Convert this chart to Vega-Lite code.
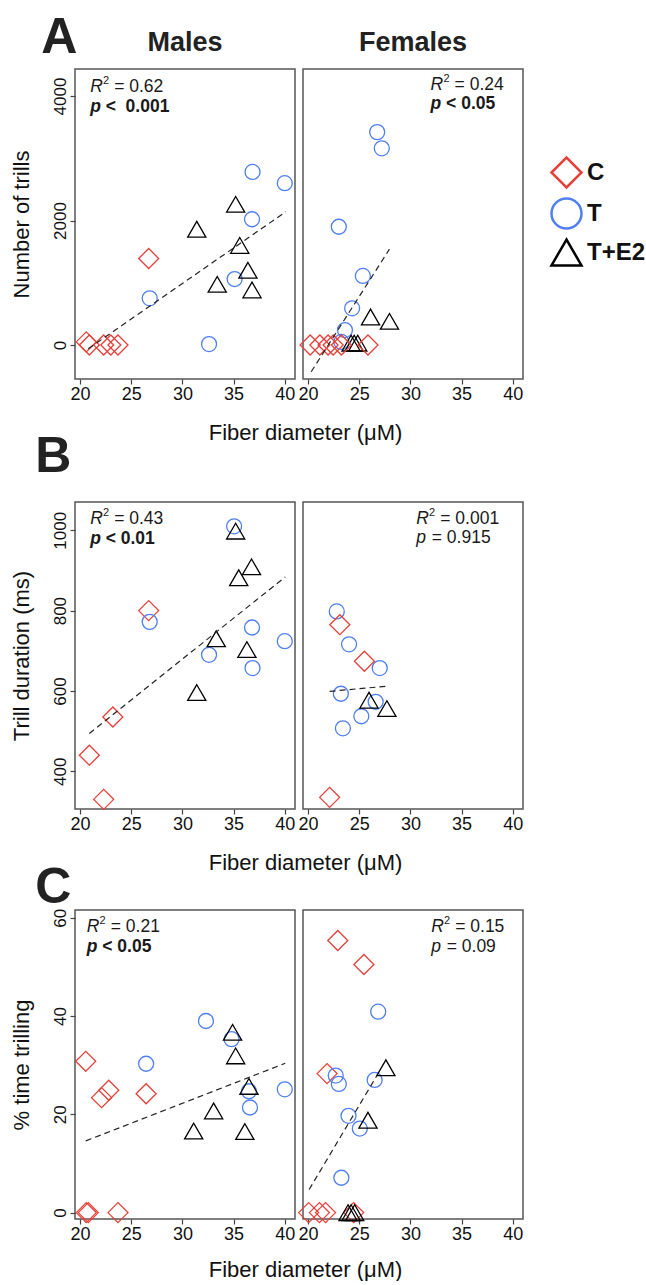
{
"$schema": "https://vega.github.io/schema/vega-lite/v6.json",
"padding": {"left": 9, "top": 12, "right": 0, "bottom": 0},
"background": "white",
"config": {
 "font": "Liberation Sans",
 "view": {"stroke": "#555", "strokeWidth": 1.5},
 "axis": {"grid": false, "domain": false, "tickColor": "#444", "tickSize": 5, "tickWidth": 1.2, "labelFontSize": 18, "labelColor": "#111", "labelPadding": 1, "titleFontSize": 22, "titleFontWeight": "normal", "titleColor": "#111"},
 "axisY": {"labelAngle": -90, "labelAlign": "center", "labelBaseline": "bottom", "labelFontSize": 17, "titlePadding": 18, "format": "d"},
 "title": {"color": "#222"},
 "legend": {"symbolSize": 900, "symbolStrokeWidth": 2.5, "labelFontSize": 24, "labelFontWeight": "bold", "labelColor": "#111", "rowPadding": 0, "labelOffset": 4}
},
"datasets": {
 "pts": [
  {"P":"AM","g":"C","x":20.6,"y":50},{"P":"AM","g":"C","x":20.9,"y":0},{"P":"AM","g":"C","x":22.3,"y":0},{"P":"AM","g":"C","x":23.0,"y":0},{"P":"AM","g":"C","x":23.7,"y":0},{"P":"AM","g":"C","x":26.7,"y":1390},
  {"P":"AM","g":"T","x":26.8,"y":750},{"P":"AM","g":"T","x":32.6,"y":15},{"P":"AM","g":"T","x":35.1,"y":1060},{"P":"AM","g":"T","x":36.85,"y":2780},{"P":"AM","g":"T","x":36.8,"y":2020},{"P":"AM","g":"T","x":40.0,"y":2600},
  {"P":"AM","g":"T+E2","x":35.2,"y":2260},{"P":"AM","g":"T+E2","x":31.4,"y":1860},{"P":"AM","g":"T+E2","x":35.6,"y":1600},{"P":"AM","g":"T+E2","x":36.4,"y":1200},{"P":"AM","g":"T+E2","x":33.4,"y":975},{"P":"AM","g":"T+E2","x":36.8,"y":885},
  {"P":"AF","g":"T","x":26.75,"y":3420},{"P":"AF","g":"T","x":27.2,"y":3160},{"P":"AF","g":"T","x":23.0,"y":1900},{"P":"AF","g":"T","x":25.35,"y":1110},{"P":"AF","g":"T","x":24.3,"y":590},{"P":"AF","g":"T","x":23.6,"y":240},{"P":"AF","g":"T","x":23.25,"y":50},
  {"P":"AF","g":"T+E2","x":26.1,"y":450},{"P":"AF","g":"T+E2","x":27.95,"y":380},{"P":"AF","g":"T+E2","x":24.2,"y":30},{"P":"AF","g":"T+E2","x":24.5,"y":30},{"P":"AF","g":"T+E2","x":24.85,"y":30},
  {"P":"AF","g":"C","x":20.2,"y":0},{"P":"AF","g":"C","x":21.15,"y":0},{"P":"AF","g":"C","x":21.95,"y":0},{"P":"AF","g":"C","x":22.45,"y":0},{"P":"AF","g":"C","x":23.25,"y":0},{"P":"AF","g":"C","x":25.85,"y":0},
  {"P":"BM","g":"C","x":26.7,"y":800},{"P":"BM","g":"C","x":23.2,"y":535},{"P":"BM","g":"C","x":20.9,"y":440},{"P":"BM","g":"C","x":22.3,"y":330},
  {"P":"BM","g":"T","x":35.05,"y":1010},{"P":"BM","g":"T","x":26.8,"y":772},{"P":"BM","g":"T","x":36.8,"y":758},{"P":"BM","g":"T","x":32.6,"y":690},{"P":"BM","g":"T","x":36.85,"y":657},{"P":"BM","g":"T","x":40.0,"y":724},
  {"P":"BM","g":"T+E2","x":35.2,"y":998},{"P":"BM","g":"T+E2","x":36.75,"y":909},{"P":"BM","g":"T+E2","x":35.5,"y":882},{"P":"BM","g":"T+E2","x":33.3,"y":730},{"P":"BM","g":"T+E2","x":36.3,"y":703},{"P":"BM","g":"T+E2","x":31.4,"y":596},
  {"P":"BF","g":"T","x":22.8,"y":798},{"P":"BF","g":"T","x":24.0,"y":716},{"P":"BF","g":"T","x":27.0,"y":657},{"P":"BF","g":"T","x":23.2,"y":593},{"P":"BF","g":"T","x":26.6,"y":573},{"P":"BF","g":"T","x":25.2,"y":537},{"P":"BF","g":"T","x":23.4,"y":507},
  {"P":"BF","g":"C","x":23.1,"y":765},{"P":"BF","g":"C","x":25.5,"y":674},{"P":"BF","g":"C","x":22.1,"y":335},
  {"P":"BF","g":"T+E2","x":25.95,"y":577},{"P":"BF","g":"T+E2","x":27.7,"y":556},
  {"P":"CM","g":"C","x":20.55,"y":30.8},{"P":"CM","g":"C","x":22.1,"y":23.4},{"P":"CM","g":"C","x":22.8,"y":24.9},{"P":"CM","g":"C","x":26.45,"y":24.2},{"P":"CM","g":"C","x":20.6,"y":0},{"P":"CM","g":"C","x":20.8,"y":0},{"P":"CM","g":"C","x":23.7,"y":0},
  {"P":"CM","g":"T","x":32.3,"y":39.0},{"P":"CM","g":"T","x":34.8,"y":35.3},{"P":"CM","g":"T","x":26.45,"y":30.3},{"P":"CM","g":"T","x":40.0,"y":25.1},{"P":"CM","g":"T","x":36.5,"y":24.7},{"P":"CM","g":"T","x":36.6,"y":21.4},
  {"P":"CM","g":"T+E2","x":34.9,"y":36.7},{"P":"CM","g":"T+E2","x":35.2,"y":31.9},{"P":"CM","g":"T+E2","x":36.5,"y":25.7},{"P":"CM","g":"T+E2","x":33.05,"y":20.7},{"P":"CM","g":"T+E2","x":31.1,"y":16.6},{"P":"CM","g":"T+E2","x":36.1,"y":16.5},
  {"P":"CF","g":"C","x":22.9,"y":55.4},{"P":"CF","g":"C","x":25.45,"y":50.5},{"P":"CF","g":"C","x":21.85,"y":28.3},{"P":"CF","g":"C","x":20.05,"y":0},{"P":"CF","g":"C","x":21.1,"y":0},{"P":"CF","g":"C","x":21.7,"y":0},{"P":"CF","g":"C","x":24.45,"y":0},
  {"P":"CF","g":"T","x":26.85,"y":40.9},{"P":"CF","g":"T","x":22.7,"y":27.9},{"P":"CF","g":"T","x":23.0,"y":26.2},{"P":"CF","g":"T","x":26.5,"y":27.0},{"P":"CF","g":"T","x":23.95,"y":19.7},{"P":"CF","g":"T","x":25.05,"y":17.1},{"P":"CF","g":"T","x":23.25,"y":7.1},
  {"P":"CF","g":"T+E2","x":27.6,"y":29.5},{"P":"CF","g":"T+E2","x":25.85,"y":18.8},{"P":"CF","g":"T+E2","x":23.9,"y":0},{"P":"CF","g":"T+E2","x":24.2,"y":0},{"P":"CF","g":"T+E2","x":24.55,"y":0}
 ],
 "lines": [
  {"P":"AM","x":20.8,"y":-60},{"P":"AM","x":40.1,"y":2140},
  {"P":"AF","x":20.3,"y":-430},{"P":"AF","x":27.95,"y":1540},
  {"P":"BM","x":20.9,"y":494},{"P":"BM","x":40.05,"y":884},
  {"P":"BF","x":22.1,"y":599},{"P":"BF","x":27.8,"y":612},
  {"P":"CM","x":20.55,"y":14.6},{"P":"CM","x":40.05,"y":30.4},
  {"P":"CF","x":20.1,"y":4.7},{"P":"CF","x":26.7,"y":27.8}
 ],
 "ann": [
  {"P":"AM","x":20.98,"yr":4150,"yp":3830,"r":"= 0.62","pr":"<\u00a0\u00a00.001"},
  {"P":"AF","x":31.97,"yr":4177,"yp":3866,"r":"= 0.24","pr":"< 0.05"},
  {"P":"BM","x":20.98,"yr":1029,"yp":979,"r":"= 0.43","pr":"< 0.01"},
  {"P":"BF","x":30.57,"yr":1029,"yp":981,"r":"= 0.001","pr":"= 0.915"},
  {"P":"CM","x":20.65,"yr":58.1,"yp":54.0,"r":"= 0.21","pr":"< 0.05"},
  {"P":"CF","x":32.03,"yr":58.1,"yp":54.0,"r":"= 0.15","pr":"= 0.09"}
 ]
},
"spacing": -12,
"vconcat": [
 {"hconcat": [
  {"width": 220, "height": 310,
   "title": {"text": "Males", "fontSize": 27, "fontWeight": "bold", "offset": 12},
   "layer": [
    {"data": {"name": "pts"}, "transform": [{"filter": "datum.P==='AM'"}],
     "mark": {"type": "point", "filled": false, "strokeWidth": 1.3, "opacity": 1},
     "encoding": {
      "x": {"field": "x", "type": "quantitative", "scale": {"domain": [19.5, 41], "nice": false, "zero": false}, "axis": {"values": [20,25,30,35,40], "title": "Fiber diameter (μM)", "titleX": 230, "titleY": 43}},
      "y": {"field": "y", "type": "quantitative", "scale": {"domain": [-546, 4434], "nice": false, "zero": false}, "axis": {"values": [0,2000,4000], "title": "Number of trills"}},
      "shape": {"field": "g", "type": "nominal", "scale": {"domain": ["C","T","T+E2"], "range": ["diamond","circle","triangle-up"]}, "legend": {"title": null, "orient": "none", "legendX": 475, "legendY": 87, "symbolSize": 900, "symbolStrokeWidth": 2.5, "rowPadding": 0}},
      "color": {"field": "g", "type": "nominal", "scale": {"domain": ["C","T","T+E2"], "range": ["#e5413a","#4f7ff0","#000000"]}, "legend": {"title": null, "orient": "none", "legendX": 475, "legendY": 87, "symbolSize": 900, "symbolStrokeWidth": 2.5, "rowPadding": 0}},
      "size": {"condition": [{"test": "datum.g==='C'", "value": 400}, {"test": "datum.g==='T'", "value": 225}], "value": 330}
     }},
    {"data": {"name": "lines"}, "transform": [{"filter": "datum.P==='AM'"}], "mark": {"type": "line", "strokeDash": [6,4], "color": "#222", "strokeWidth": 1.2}, "encoding": {"x": {"field": "x", "type": "quantitative"}, "y": {"field": "y", "type": "quantitative"}}},
    {"data": {"name": "ann"}, "transform": [{"filter": "datum.P==='AM'"}], "mark": {"type": "text", "text": "R", "fontStyle": "italic", "fontSize": 17.5, "align": "left", "baseline": "middle", "color": "#1a1a1a"}, "encoding": {"x": {"field": "x", "type": "quantitative"}, "y": {"field": "yr", "type": "quantitative"}}},
    {"data": {"name": "ann"}, "transform": [{"filter": "datum.P==='AM'"}], "mark": {"type": "text", "text": "2", "fontSize": 11, "align": "left", "baseline": "middle", "dx": 12.8, "dy": -6, "color": "#1a1a1a"}, "encoding": {"x": {"field": "x", "type": "quantitative"}, "y": {"field": "yr", "type": "quantitative"}}},
    {"data": {"name": "ann"}, "transform": [{"filter": "datum.P==='AM'"}], "mark": {"type": "text", "fontSize": 17.5, "align": "left", "baseline": "middle", "dx": 24, "color": "#1a1a1a"}, "encoding": {"x": {"field": "x", "type": "quantitative"}, "y": {"field": "yr", "type": "quantitative"}, "text": {"field": "r"}}},
    {"data": {"name": "ann"}, "transform": [{"filter": "datum.P==='AM'"}], "mark": {"type": "text", "text": "p", "fontStyle": "italic", "fontWeight": "bold", "fontSize": 17.5, "align": "left", "baseline": "middle", "color": "#1a1a1a"}, "encoding": {"x": {"field": "x", "type": "quantitative"}, "y": {"field": "yp", "type": "quantitative"}}},
    {"data": {"name": "ann"}, "transform": [{"filter": "datum.P==='AM'"}], "mark": {"type": "text", "fontWeight": "bold", "fontSize": 17.5, "align": "left", "baseline": "middle", "dx": 15.5, "color": "#1a1a1a"}, "encoding": {"x": {"field": "x", "type": "quantitative"}, "y": {"field": "yp", "type": "quantitative"}, "text": {"field": "pr"}}}
   ]},
  {"width": 220, "height": 310,
   "title": {"text": "Females", "fontSize": 27, "fontWeight": "bold", "offset": 12},
   "layer": [
    {"data": {"name": "pts"}, "transform": [{"filter": "datum.P==='AF'"}],
     "mark": {"type": "point", "filled": false, "strokeWidth": 1.3, "opacity": 1},
     "encoding": {
      "x": {"field": "x", "type": "quantitative", "scale": {"domain": [19.5, 41], "nice": false, "zero": false}, "axis": {"values": [20,25,30,35,40], "title": null}},
      "y": {"field": "y", "type": "quantitative", "scale": {"domain": [-546, 4434], "nice": false, "zero": false}, "axis": null},
      "shape": {"field": "g", "type": "nominal", "scale": {"domain": ["C","T","T+E2"], "range": ["diamond","circle","triangle-up"]}},
      "color": {"field": "g", "type": "nominal", "scale": {"domain": ["C","T","T+E2"], "range": ["#e5413a","#4f7ff0","#000000"]}},
      "size": {"condition": [{"test": "datum.g==='C'", "value": 400}, {"test": "datum.g==='T'", "value": 225}], "value": 330}
     }},
    {"data": {"name": "lines"}, "transform": [{"filter": "datum.P==='AF'"}], "mark": {"type": "line", "strokeDash": [6,4], "color": "#222", "strokeWidth": 1.2}, "encoding": {"x": {"field": "x", "type": "quantitative"}, "y": {"field": "y", "type": "quantitative"}}},
    {"data": {"name": "ann"}, "transform": [{"filter": "datum.P==='AF'"}], "mark": {"type": "text", "text": "R", "fontStyle": "italic", "fontSize": 17.5, "align": "left", "baseline": "middle", "color": "#1a1a1a"}, "encoding": {"x": {"field": "x", "type": "quantitative"}, "y": {"field": "yr", "type": "quantitative"}}},
    {"data": {"name": "ann"}, "transform": [{"filter": "datum.P==='AF'"}], "mark": {"type": "text", "text": "2", "fontSize": 11, "align": "left", "baseline": "middle", "dx": 12.8, "dy": -6, "color": "#1a1a1a"}, "encoding": {"x": {"field": "x", "type": "quantitative"}, "y": {"field": "yr", "type": "quantitative"}}},
    {"data": {"name": "ann"}, "transform": [{"filter": "datum.P==='AF'"}], "mark": {"type": "text", "fontSize": 17.5, "align": "left", "baseline": "middle", "dx": 24, "color": "#1a1a1a"}, "encoding": {"x": {"field": "x", "type": "quantitative"}, "y": {"field": "yr", "type": "quantitative"}, "text": {"field": "r"}}},
    {"data": {"name": "ann"}, "transform": [{"filter": "datum.P==='AF'"}], "mark": {"type": "text", "text": "p", "fontStyle": "italic", "fontWeight": "bold", "fontSize": 17.5, "align": "left", "baseline": "middle", "color": "#1a1a1a"}, "encoding": {"x": {"field": "x", "type": "quantitative"}, "y": {"field": "yp", "type": "quantitative"}}},
    {"data": {"name": "ann"}, "transform": [{"filter": "datum.P==='AF'"}], "mark": {"type": "text", "fontWeight": "bold", "fontSize": 17.5, "align": "left", "baseline": "middle", "dx": 15.5, "color": "#1a1a1a"}, "encoding": {"x": {"field": "x", "type": "quantitative"}, "y": {"field": "yp", "type": "quantitative"}, "text": {"field": "pr"}}}
   ]}
 ], "spacing": 8, "bounds": "flush",
 "title": {"text": "A", "anchor": "start", "fontSize": 50, "fontWeight": "bold", "offset": -34.5, "dx": 32}},
 {"hconcat": [
  {"width": 220, "height": 307,
   "layer": [
    {"data": {"name": "pts"}, "transform": [{"filter": "datum.P==='BM'"}],
     "mark": {"type": "point", "filled": false, "strokeWidth": 1.3, "opacity": 1},
     "encoding": {
      "x": {"field": "x", "type": "quantitative", "scale": {"domain": [19.5, 41], "nice": false, "zero": false}, "axis": {"values": [20,25,30,35,40], "title": "Fiber diameter (μM)", "titleX": 230, "titleY": 43}},
      "y": {"field": "y", "type": "quantitative", "scale": {"domain": [306, 1070.5], "nice": false, "zero": false}, "axis": {"values": [400,600,800,1000], "title": "Trill duration (ms)"}},
      "shape": {"field": "g", "type": "nominal", "scale": {"domain": ["C","T","T+E2"], "range": ["diamond","circle","triangle-up"]}},
      "color": {"field": "g", "type": "nominal", "scale": {"domain": ["C","T","T+E2"], "range": ["#e5413a","#4f7ff0","#000000"]}},
      "size": {"condition": [{"test": "datum.g==='C'", "value": 400}, {"test": "datum.g==='T'", "value": 225}], "value": 330}
     }},
    {"data": {"name": "lines"}, "transform": [{"filter": "datum.P==='BM'"}], "mark": {"type": "line", "strokeDash": [6,4], "color": "#222", "strokeWidth": 1.2}, "encoding": {"x": {"field": "x", "type": "quantitative"}, "y": {"field": "y", "type": "quantitative"}}},
    {"data": {"name": "ann"}, "transform": [{"filter": "datum.P==='BM'"}], "mark": {"type": "text", "text": "R", "fontStyle": "italic", "fontSize": 17.5, "align": "left", "baseline": "middle", "color": "#1a1a1a"}, "encoding": {"x": {"field": "x", "type": "quantitative"}, "y": {"field": "yr", "type": "quantitative"}}},
    {"data": {"name": "ann"}, "transform": [{"filter": "datum.P==='BM'"}], "mark": {"type": "text", "text": "2", "fontSize": 11, "align": "left", "baseline": "middle", "dx": 12.8, "dy": -6, "color": "#1a1a1a"}, "encoding": {"x": {"field": "x", "type": "quantitative"}, "y": {"field": "yr", "type": "quantitative"}}},
    {"data": {"name": "ann"}, "transform": [{"filter": "datum.P==='BM'"}], "mark": {"type": "text", "fontSize": 17.5, "align": "left", "baseline": "middle", "dx": 24, "color": "#1a1a1a"}, "encoding": {"x": {"field": "x", "type": "quantitative"}, "y": {"field": "yr", "type": "quantitative"}, "text": {"field": "r"}}},
    {"data": {"name": "ann"}, "transform": [{"filter": "datum.P==='BM'"}], "mark": {"type": "text", "text": "p", "fontStyle": "italic", "fontWeight": "bold", "fontSize": 17.5, "align": "left", "baseline": "middle", "color": "#1a1a1a"}, "encoding": {"x": {"field": "x", "type": "quantitative"}, "y": {"field": "yp", "type": "quantitative"}}},
    {"data": {"name": "ann"}, "transform": [{"filter": "datum.P==='BM'"}], "mark": {"type": "text", "fontWeight": "bold", "fontSize": 17.5, "align": "left", "baseline": "middle", "dx": 15.5, "color": "#1a1a1a"}, "encoding": {"x": {"field": "x", "type": "quantitative"}, "y": {"field": "yp", "type": "quantitative"}, "text": {"field": "pr"}}}
   ]},
  {"width": 220, "height": 307,
   "layer": [
    {"data": {"name": "pts"}, "transform": [{"filter": "datum.P==='BF'"}],
     "mark": {"type": "point", "filled": false, "strokeWidth": 1.3, "opacity": 1},
     "encoding": {
      "x": {"field": "x", "type": "quantitative", "scale": {"domain": [19.5, 41], "nice": false, "zero": false}, "axis": {"values": [20,25,30,35,40], "title": null}},
      "y": {"field": "y", "type": "quantitative", "scale": {"domain": [306, 1070.5], "nice": false, "zero": false}, "axis": null},
      "shape": {"field": "g", "type": "nominal", "scale": {"domain": ["C","T","T+E2"], "range": ["diamond","circle","triangle-up"]}},
      "color": {"field": "g", "type": "nominal", "scale": {"domain": ["C","T","T+E2"], "range": ["#e5413a","#4f7ff0","#000000"]}},
      "size": {"condition": [{"test": "datum.g==='C'", "value": 400}, {"test": "datum.g==='T'", "value": 225}], "value": 330}
     }},
    {"data": {"name": "lines"}, "transform": [{"filter": "datum.P==='BF'"}], "mark": {"type": "line", "strokeDash": [6,4], "color": "#222", "strokeWidth": 1.2}, "encoding": {"x": {"field": "x", "type": "quantitative"}, "y": {"field": "y", "type": "quantitative"}}},
    {"data": {"name": "ann"}, "transform": [{"filter": "datum.P==='BF'"}], "mark": {"type": "text", "text": "R", "fontStyle": "italic", "fontSize": 17.5, "align": "left", "baseline": "middle", "color": "#1a1a1a"}, "encoding": {"x": {"field": "x", "type": "quantitative"}, "y": {"field": "yr", "type": "quantitative"}}},
    {"data": {"name": "ann"}, "transform": [{"filter": "datum.P==='BF'"}], "mark": {"type": "text", "text": "2", "fontSize": 11, "align": "left", "baseline": "middle", "dx": 12.8, "dy": -6, "color": "#1a1a1a"}, "encoding": {"x": {"field": "x", "type": "quantitative"}, "y": {"field": "yr", "type": "quantitative"}}},
    {"data": {"name": "ann"}, "transform": [{"filter": "datum.P==='BF'"}], "mark": {"type": "text", "fontSize": 17.5, "align": "left", "baseline": "middle", "dx": 24, "color": "#1a1a1a"}, "encoding": {"x": {"field": "x", "type": "quantitative"}, "y": {"field": "yr", "type": "quantitative"}, "text": {"field": "r"}}},
    {"data": {"name": "ann"}, "transform": [{"filter": "datum.P==='BF'"}], "mark": {"type": "text", "text": "p", "fontStyle": "italic", "fontSize": 17.5, "align": "left", "baseline": "middle", "color": "#1a1a1a"}, "encoding": {"x": {"field": "x", "type": "quantitative"}, "y": {"field": "yp", "type": "quantitative"}}},
    {"data": {"name": "ann"}, "transform": [{"filter": "datum.P==='BF'"}], "mark": {"type": "text", "fontSize": 17.5, "align": "left", "baseline": "middle", "dx": 15.5, "color": "#1a1a1a"}, "encoding": {"x": {"field": "x", "type": "quantitative"}, "y": {"field": "yp", "type": "quantitative"}, "text": {"field": "pr"}}}
   ]}
 ], "spacing": 8, "bounds": "flush",
 "title": {"text": "B", "anchor": "start", "fontSize": 50, "fontWeight": "bold", "offset": 19, "dx": 26}},
 {"hconcat": [
  {"width": 220, "height": 309,
   "layer": [
    {"data": {"name": "pts"}, "transform": [{"filter": "datum.P==='CM'"}],
     "mark": {"type": "point", "filled": false, "strokeWidth": 1.3, "opacity": 1},
     "encoding": {
      "x": {"field": "x", "type": "quantitative", "scale": {"domain": [19.5, 41], "nice": false, "zero": false}, "axis": {"values": [20,25,30,35,40], "title": "Fiber diameter (μM)", "titleX": 230, "titleY": 40}},
      "y": {"field": "y", "type": "quantitative", "scale": {"domain": [-1.3, 61.6], "nice": false, "zero": false}, "axis": {"values": [0,20,40,60], "title": "% time trilling"}},
      "shape": {"field": "g", "type": "nominal", "scale": {"domain": ["C","T","T+E2"], "range": ["diamond","circle","triangle-up"]}},
      "color": {"field": "g", "type": "nominal", "scale": {"domain": ["C","T","T+E2"], "range": ["#e5413a","#4f7ff0","#000000"]}},
      "size": {"condition": [{"test": "datum.g==='C'", "value": 400}, {"test": "datum.g==='T'", "value": 225}], "value": 330}
     }},
    {"data": {"name": "lines"}, "transform": [{"filter": "datum.P==='CM'"}], "mark": {"type": "line", "strokeDash": [6,4], "color": "#222", "strokeWidth": 1.2}, "encoding": {"x": {"field": "x", "type": "quantitative"}, "y": {"field": "y", "type": "quantitative"}}},
    {"data": {"name": "ann"}, "transform": [{"filter": "datum.P==='CM'"}], "mark": {"type": "text", "text": "R", "fontStyle": "italic", "fontSize": 17.5, "align": "left", "baseline": "middle", "color": "#1a1a1a"}, "encoding": {"x": {"field": "x", "type": "quantitative"}, "y": {"field": "yr", "type": "quantitative"}}},
    {"data": {"name": "ann"}, "transform": [{"filter": "datum.P==='CM'"}], "mark": {"type": "text", "text": "2", "fontSize": 11, "align": "left", "baseline": "middle", "dx": 12.8, "dy": -6, "color": "#1a1a1a"}, "encoding": {"x": {"field": "x", "type": "quantitative"}, "y": {"field": "yr", "type": "quantitative"}}},
    {"data": {"name": "ann"}, "transform": [{"filter": "datum.P==='CM'"}], "mark": {"type": "text", "fontSize": 17.5, "align": "left", "baseline": "middle", "dx": 24, "color": "#1a1a1a"}, "encoding": {"x": {"field": "x", "type": "quantitative"}, "y": {"field": "yr", "type": "quantitative"}, "text": {"field": "r"}}},
    {"data": {"name": "ann"}, "transform": [{"filter": "datum.P==='CM'"}], "mark": {"type": "text", "text": "p", "fontStyle": "italic", "fontWeight": "bold", "fontSize": 17.5, "align": "left", "baseline": "middle", "color": "#1a1a1a"}, "encoding": {"x": {"field": "x", "type": "quantitative"}, "y": {"field": "yp", "type": "quantitative"}}},
    {"data": {"name": "ann"}, "transform": [{"filter": "datum.P==='CM'"}], "mark": {"type": "text", "fontWeight": "bold", "fontSize": 17.5, "align": "left", "baseline": "middle", "dx": 15.5, "color": "#1a1a1a"}, "encoding": {"x": {"field": "x", "type": "quantitative"}, "y": {"field": "yp", "type": "quantitative"}, "text": {"field": "pr"}}}
   ]},
  {"width": 220, "height": 309,
   "layer": [
    {"data": {"name": "pts"}, "transform": [{"filter": "datum.P==='CF'"}],
     "mark": {"type": "point", "filled": false, "strokeWidth": 1.3, "opacity": 1},
     "encoding": {
      "x": {"field": "x", "type": "quantitative", "scale": {"domain": [19.5, 41], "nice": false, "zero": false}, "axis": {"values": [20,25,30,35,40], "title": null}},
      "y": {"field": "y", "type": "quantitative", "scale": {"domain": [-1.3, 61.6], "nice": false, "zero": false}, "axis": null},
      "shape": {"field": "g", "type": "nominal", "scale": {"domain": ["C","T","T+E2"], "range": ["diamond","circle","triangle-up"]}},
      "color": {"field": "g", "type": "nominal", "scale": {"domain": ["C","T","T+E2"], "range": ["#e5413a","#4f7ff0","#000000"]}},
      "size": {"condition": [{"test": "datum.g==='C'", "value": 400}, {"test": "datum.g==='T'", "value": 225}], "value": 330}
     }},
    {"data": {"name": "lines"}, "transform": [{"filter": "datum.P==='CF'"}], "mark": {"type": "line", "strokeDash": [6,4], "color": "#222", "strokeWidth": 1.2}, "encoding": {"x": {"field": "x", "type": "quantitative"}, "y": {"field": "y", "type": "quantitative"}}},
    {"data": {"name": "ann"}, "transform": [{"filter": "datum.P==='CF'"}], "mark": {"type": "text", "text": "R", "fontStyle": "italic", "fontSize": 17.5, "align": "left", "baseline": "middle", "color": "#1a1a1a"}, "encoding": {"x": {"field": "x", "type": "quantitative"}, "y": {"field": "yr", "type": "quantitative"}}},
    {"data": {"name": "ann"}, "transform": [{"filter": "datum.P==='CF'"}], "mark": {"type": "text", "text": "2", "fontSize": 11, "align": "left", "baseline": "middle", "dx": 12.8, "dy": -6, "color": "#1a1a1a"}, "encoding": {"x": {"field": "x", "type": "quantitative"}, "y": {"field": "yr", "type": "quantitative"}}},
    {"data": {"name": "ann"}, "transform": [{"filter": "datum.P==='CF'"}], "mark": {"type": "text", "fontSize": 17.5, "align": "left", "baseline": "middle", "dx": 24, "color": "#1a1a1a"}, "encoding": {"x": {"field": "x", "type": "quantitative"}, "y": {"field": "yr", "type": "quantitative"}, "text": {"field": "r"}}},
    {"data": {"name": "ann"}, "transform": [{"filter": "datum.P==='CF'"}], "mark": {"type": "text", "text": "p", "fontStyle": "italic", "fontSize": 17.5, "align": "left", "baseline": "middle", "color": "#1a1a1a"}, "encoding": {"x": {"field": "x", "type": "quantitative"}, "y": {"field": "yp", "type": "quantitative"}}},
    {"data": {"name": "ann"}, "transform": [{"filter": "datum.P==='CF'"}], "mark": {"type": "text", "fontSize": 17.5, "align": "left", "baseline": "middle", "dx": 15.5, "color": "#1a1a1a"}, "encoding": {"x": {"field": "x", "type": "quantitative"}, "y": {"field": "yp", "type": "quantitative"}, "text": {"field": "pr"}}}
   ]}
 ], "spacing": 8, "bounds": "flush",
 "title": {"text": "C", "anchor": "start", "fontSize": 50, "fontWeight": "bold", "offset": -5, "dx": 26}}
]
}
